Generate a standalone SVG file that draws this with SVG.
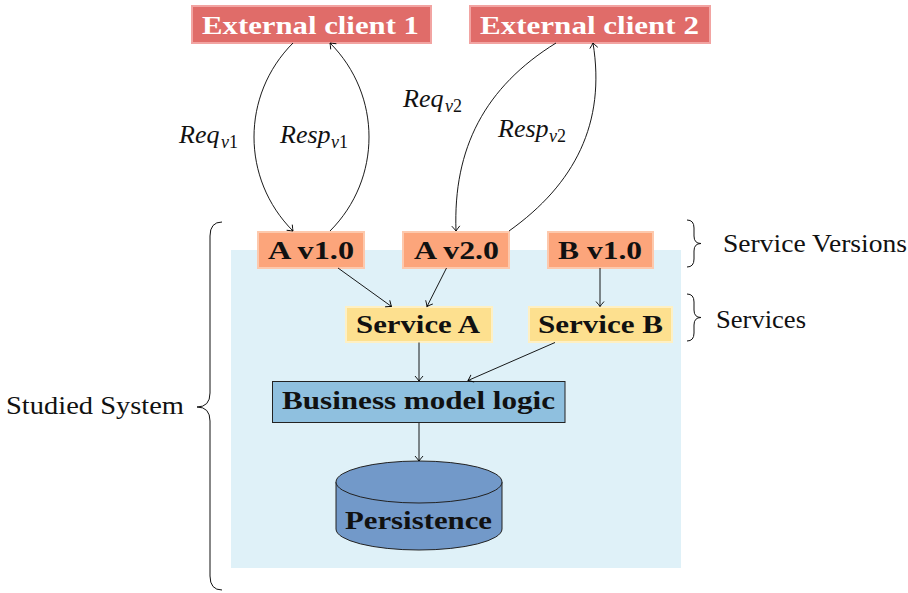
<svg xmlns="http://www.w3.org/2000/svg" width="908" height="593" viewBox="0 0 908 593">
<defs>
<marker id="arr" markerUnits="userSpaceOnUse" markerWidth="12" markerHeight="12" viewBox="-6 -6 12 12" refX="0" refY="0" orient="auto">
<path d="M-5,-4 Q-1.5,-1 0,0 Q-1.5,1 -5,4" fill="none" stroke="#000" stroke-width="0.9"/>
</marker>
<style>
.ext{fill:#e06c69;stroke:#f2a4a2;stroke-width:2}
.ver{fill:#fca57b;stroke:#fdc9ad;stroke-width:2}
.svc{fill:#fde08f;stroke:#fef0c4;stroke-width:2}
.conn{fill:none;stroke:#000;stroke-width:0.9;marker-end:url(#arr)}
.brace{fill:none;stroke:#111;stroke-width:1}
</style>
</defs>
<rect x="231" y="250" width="450" height="318" fill="#dff1f8"/>

<g id="ext1">
<rect class="ext" x="192" y="6" width="239" height="37"/>
<text font-family="Liberation Serif" font-weight="bold" font-size="26" fill="#fff" x="202" y="34" textLength="217" lengthAdjust="spacingAndGlyphs">External client 1</text>
</g>
<g id="ext2">
<rect class="ext" x="470" y="6" width="240" height="37"/>
<text font-family="Liberation Serif" font-weight="bold" font-size="26" fill="#fff" x="480" y="34" textLength="219" lengthAdjust="spacingAndGlyphs">External client 2</text>
</g>
<g id="av1">
<rect class="ver" x="258" y="232" width="106" height="36"/>
<text font-family="Liberation Serif" font-weight="bold" font-size="26" fill="#111" x="268" y="259" textLength="86" lengthAdjust="spacingAndGlyphs">A v1.0</text>
</g>
<g id="av2">
<rect class="ver" x="403" y="232" width="106" height="36"/>
<text font-family="Liberation Serif" font-weight="bold" font-size="26" fill="#111" x="414" y="259" textLength="85" lengthAdjust="spacingAndGlyphs">A v2.0</text>
</g>
<g id="bv1">
<rect class="ver" x="548" y="232" width="105" height="36"/>
<text font-family="Liberation Serif" font-weight="bold" font-size="26" fill="#111" x="558" y="259" textLength="84" lengthAdjust="spacingAndGlyphs">B v1.0</text>
</g>
<g id="svcA">
<rect class="svc" x="346" y="307" width="146" height="35"/>
<text font-family="Liberation Serif" font-weight="bold" font-size="26" fill="#111" x="356" y="333" textLength="124" lengthAdjust="spacingAndGlyphs">Service A</text>
</g>
<g id="svcB">
<rect class="svc" x="529" y="307" width="143" height="35"/>
<text font-family="Liberation Serif" font-weight="bold" font-size="26" fill="#111" x="538" y="333" textLength="125" lengthAdjust="spacingAndGlyphs">Service B</text>
</g>
<g id="bml">
<rect x="272.5" y="381.5" width="292.5" height="41" fill="#8fc0df" stroke="#222" stroke-width="1"/>
<text font-family="Liberation Serif" font-weight="bold" font-size="26" fill="#111" x="282" y="409" textLength="273" lengthAdjust="spacingAndGlyphs">Business model logic</text>
</g>
<g id="persistence">
<path d="M336,482 L336,529 A83,21 0 0 0 502,529 L502,482" fill="#7299c9" stroke="#222" stroke-width="1"/>
<ellipse cx="419" cy="482" rx="83" ry="21" fill="#7299c9" stroke="#222" stroke-width="1"/>
<text font-family="Liberation Serif" font-weight="bold" font-size="26" fill="#111" x="345" y="529" textLength="147" lengthAdjust="spacingAndGlyphs">Persistence</text>
</g>

<g id="connectors">
<path class="conn" d="M293,43 C241,95 241,179 293,231"/>
<path class="conn" d="M330,231 C382,179 382,95 330,43"/>
<path class="conn" d="M556,43 C485,87 453,148 456,231"/>
<path class="conn" d="M509,231 C575,184 606,123 593,43"/>
<path class="conn" d="M338,268 L391.5,306.5"/>
<path class="conn" d="M446.5,268 L427,306.5"/>
<path class="conn" d="M600,268 L600,306.5"/>
<path class="conn" d="M419,342.5 L419,381"/>
<path class="conn" d="M555,342.5 L468,380.5"/>
<path class="conn" d="M419,423 L419,461"/>
</g>

<g id="labels" font-family="Liberation Serif" fill="#111">
<text font-family="Liberation Serif" font-style="italic" font-size="26" x="179" y="143">Req<tspan font-size="18" x="221" dy="5">v</tspan><tspan font-size="18" font-style="normal">1</tspan></text>
<text font-family="Liberation Serif" font-style="italic" font-size="26" x="280" y="143">Resp<tspan font-size="18" x="331" dy="5">v</tspan><tspan font-size="18" font-style="normal">1</tspan></text>
<text font-family="Liberation Serif" font-style="italic" font-size="26" x="403" y="107">Req<tspan font-size="18" x="445" dy="5">v</tspan><tspan font-size="18" font-style="normal">2</tspan></text>
<text font-family="Liberation Serif" font-style="italic" font-size="26" x="498" y="137">Resp<tspan font-size="18" x="549" dy="5">v</tspan><tspan font-size="18" font-style="normal">2</tspan></text>
</g>

<g id="braces">
<path class="brace" d="M222,222 Q210,222 210,236 L210,393 Q210,407 197,407 Q210,407 210,421 L210,576 Q210,590 222,590"/>
<path class="brace" d="M687,220 Q694,220 694,228 L694,236 Q694,243.5 701,243.5 Q694,243.5 694,251 L694,259 Q694,267 687,267"/>
<path class="brace" d="M687,294 Q694,294 694,302 L694,310 Q694,317.5 701,317.5 Q694,317.5 694,325 L694,333 Q694,341 687,341"/>
<text font-family="Liberation Serif" font-size="25" fill="#111" x="6" y="414" textLength="178" lengthAdjust="spacingAndGlyphs">Studied System</text>
<text font-family="Liberation Serif" font-size="25" fill="#111" x="723" y="252" textLength="184" lengthAdjust="spacingAndGlyphs">Service Versions</text>
<text font-family="Liberation Serif" font-size="25" fill="#111" x="716" y="328" textLength="90" lengthAdjust="spacingAndGlyphs">Services</text>
</g>
</svg>
